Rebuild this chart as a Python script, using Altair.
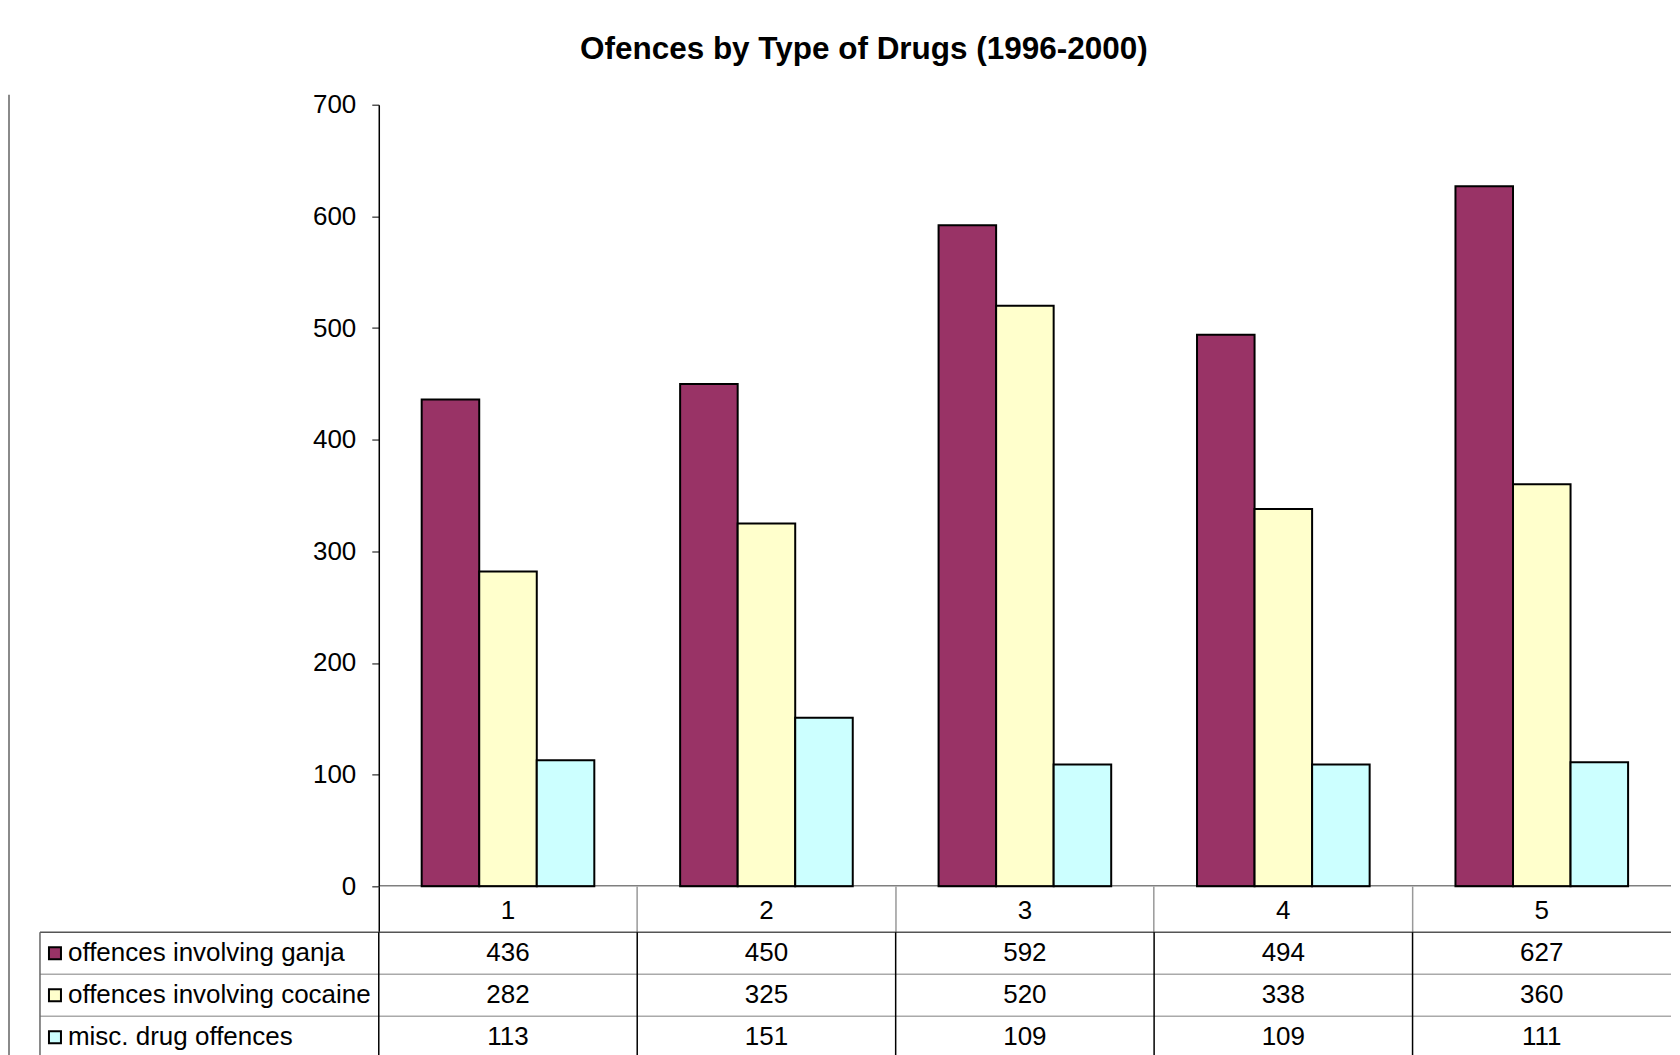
import altair as alt
import pandas as pd

# ---- data ----
categories = ["1", "2", "3", "4", "5"]
series = ["offences involving ganja", "offences involving cocaine", "misc. drug offences"]
ganja = [436, 450, 592, 494, 627]
cocaine = [282, 325, 520, 338, 360]
misc = [113, 151, 109, 109, 111]
colors = ["#993366", "#FFFFCC", "#CCFFFF"]
title_text = "Ofences by Type of Drugs (1996-2000)"
y_ticks = [0, 100, 200, 300, 400, 500, 600, 700]

rows = []
for s, vals in zip(series, [ganja, cocaine, misc]):
    for c, v in zip(categories, vals):
        rows.append({"cat": c, "series": s, "value": v, "label": str(v)})
df = pd.DataFrame(rows)
legend_df = pd.DataFrame({"series": series})
cat_df = pd.DataFrame({"cat": categories})
edge_df = pd.DataFrame({"edge": [0]})

FONT = "Liberation Sans"
PLOT_W = 1293
PLOT_H = 782
ROW_H = 42
TABLE_H = 3 * ROW_H
LEG_W = 339
HEADER_H = 46

color_scale = alt.Scale(domain=series, range=colors)
x_scale = alt.Scale(domain=categories, paddingInner=0, paddingOuter=0)
y_scale = alt.Scale(domain=[0, 700], nice=False)

# ---- bar chart ----
bars = alt.Chart(df).mark_bar(stroke="black", strokeWidth=2).encode(
    x=alt.X(
        "cat:N",
        sort=categories,
        scale=x_scale,
        axis=alt.Axis(
            title=None, labelAngle=0, bandPosition=0, tickSize=HEADER_H, domain=False,
            tickColor={"condition": {"test": "datum.value === '1'", "value": "black"}, "value": "#999999"},
            tickWidth=1.5, labelPadding=-35, labelBaseline="top", labelFontSize=26,
            labelColor="black", labelFont=FONT,
        ),
    ),
    xOffset=alt.XOffset("series:N", sort=series,
                        scale=alt.Scale(domain=series, paddingInner=0, paddingOuter=0.7457)),
    y=alt.Y(
        "value:Q",
        scale=y_scale,
        axis=alt.Axis(
            title=None, values=y_ticks, tickSize=7, tickColor="#555555", tickWidth=1.5,
            labelPadding=16, labelFontSize=26, labelColor="black", labelFont=FONT,
            domainColor="black", domainWidth=1.5, grid=False,
        ),
    ),
    color=alt.Color("series:N", scale=color_scale, legend=None),
)
baseline = alt.Chart(edge_df).mark_rule(color="black", strokeWidth=1.5, clip=True).encode(
    y=alt.datum(0, scale=y_scale), x=alt.value(0), x2=alt.value("width")
)
bar_cell = alt.layer(bars, baseline).properties(width=PLOT_W, height=PLOT_H)

# ---- spacer above the legend column, carrying the grey frame line of the chart area ----
spacer = alt.Chart(edge_df).mark_rule(color="#8a8a8a", strokeWidth=2).encode(
    x=alt.value(-31), y=alt.value(-10), y2=alt.value(PLOT_H + HEADER_H + TABLE_H)
).properties(width=LEG_W, height=PLOT_H)

# ---- rows of the data table ----
row_scale = alt.Scale(domain=series, paddingInner=0, paddingOuter=0)
row_y = alt.Y("series:N", sort=series, scale=row_scale, axis=None)
row_lines = alt.Chart(legend_df).mark_rule(strokeWidth=1.5).encode(
    y=alt.Y("series:N", sort=series, scale=row_scale, axis=None, bandPosition=0),
    x=alt.value(0), x2=alt.value("width"),
    color=alt.condition(f"datum.series === '{series[0]}'", alt.value("#555555"), alt.value("#aaaaaa")),
)

# legend column
leg_border = alt.Chart(edge_df).mark_rule(color="#666666", strokeWidth=1.5).encode(
    x=alt.value(0), y=alt.value(0), y2=alt.value("height")
)
leg_squares = alt.Chart(legend_df).mark_square(
    size=144, stroke="black", strokeWidth=2, opacity=1, filled=True
).encode(x=alt.value(15), y=row_y, color=alt.Color("series:N", scale=color_scale, legend=None))
leg_text = alt.Chart(legend_df).mark_text(
    align="left", baseline="middle", fontSize=26, font=FONT, color="black"
).encode(x=alt.value(28), y=row_y, text="series:N")
legend_cell = alt.layer(row_lines, leg_border, leg_squares, leg_text).properties(
    width=LEG_W, height=TABLE_H)

# values
col_lines = alt.Chart(cat_df).mark_rule(color="black", strokeWidth=1.5).encode(
    x=alt.X("cat:N", sort=categories, scale=x_scale, axis=None, bandPosition=0),
    y=alt.value(0), y2=alt.value("height"),
)
values = alt.Chart(df).mark_text(
    fontSize=26, font=FONT, baseline="middle", color="black"
).encode(
    x=alt.X("cat:N", sort=categories, scale=x_scale, axis=None),
    y=row_y,
    text="label:N",
)
table = alt.layer(row_lines, col_lines, values).properties(width=PLOT_W, height=TABLE_H)

chart = alt.concat(
    spacer, bar_cell, legend_cell, table,
    columns=2, spacing={"row": HEADER_H, "column": 0}, bounds="flush", align="each",
).properties(
    title=alt.TitleParams(text=title_text, fontSize=31.5, font=FONT, fontWeight="bold",
                          anchor="middle", offset=25.8, dx=24, color="black"),
    padding={"left": 0, "top": 25.5, "right": 0, "bottom": 0},
    background="white",
).configure_view(strokeWidth=0)

chart.save("out.html", embed_options={"renderer": "svg", "actions": False})
